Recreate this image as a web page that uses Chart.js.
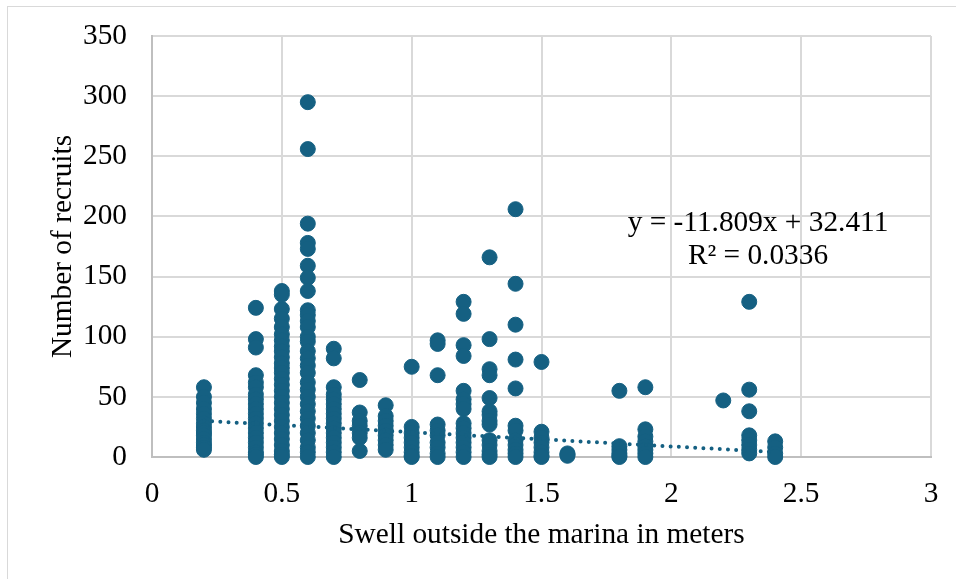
<!DOCTYPE html>
<html>
<head>
<meta charset="utf-8">
<script src="https://cdn.jsdelivr.net/npm/chart.js@4"></script>
<style>
  html, body { margin: 0; padding: 0; background: #fff; overflow: hidden; }
  #wrap { position: relative; width: 956px; height: 579px; }
  #frame { position: absolute; left: 7px; top: 6px; width: 960px; height: 590px; border: 1px solid #d9d9d9; box-sizing: border-box; }
  #myChart { position: absolute; left: 0; top: 0; }
  #eq { position: absolute; left: 608px; top: 205px; width: 300px; text-align: center;
        font: 29.33px/33px "Liberation Serif", serif; color: #000; }
</style>
</head>
<body>
<div id="wrap">
  <div id="frame"></div>
  <canvas id="myChart" width="956" height="579"></canvas>
  <div id="eq">y = -11.809x + 32.411<br>R² = 0.0336</div>
</div>
<script>
const swellLevels = [0.2, 0.4, 0.5, 0.6, 0.7, 0.8, 0.9, 1, 1.1, 1.2, 1.3, 1.4, 1.5, 1.6, 1.8, 1.9, 2.2, 2.3, 2.4]
const recruitsAtSwell = [
  [58, 50, 45, 40, 36, 32, 28, 25, 22, 20, 18, 15, 12, 10, 8, 6],
  [124, 98, 91, 68, 62, 58, 52, 48, 44, 40, 36, 32, 28, 24, 20, 16, 12, 8, 4, 2, 0],
  [138, 135, 123, 115, 108, 102, 97, 92, 88, 83, 78, 74, 70, 65, 60, 55, 50, 45, 40, 35, 30, 25, 20, 15, 10, 5, 2, 0],
  [295, 256, 194, 178, 173, 159, 149, 138, 122, 118, 113, 108, 100, 96, 88, 82, 76, 70, 62, 56, 50, 44, 38, 32, 26, 20, 14, 8, 4, 0],
  [90, 82, 58, 52, 48, 44, 40, 36, 32, 28, 24, 20, 16, 12, 8, 4, 0],
  [64, 37, 30, 26, 20, 16, 5],
  [43, 34, 30, 26, 22, 18, 14, 10, 6],
  [75, 25, 20, 16, 12, 8, 4, 1, 0],
  [97, 94, 68, 27, 22, 18, 12, 8, 3, 0],
  [129, 119, 93, 84, 55, 48, 44, 40, 28, 24, 20, 16, 12, 8, 4, 0],
  [166, 98, 73, 68, 49, 38, 35, 30, 27, 14, 10, 5, 2, 0],
  [206, 144, 110, 81, 57, 26, 22, 14, 10, 6, 3, 0],
  [79, 21, 16, 12, 8, 4, 1, 0],
  [3, 2, 1],
  [55, 9, 6, 3, 1, 0],
  [58, 23, 17, 13, 9, 6, 3, 0],
  [47],
  [129, 56, 38, 18, 14, 10, 6, 3],
  [13, 8, 3, 0]
]
const trendX = [0.2, 2.4]
const trendY = [30.05, 4.07]
const xTicks = [0, 0.5, 1, 1.5, 2, 2.5, 3]
const yTicks = [0, 50, 100, 150, 200, 250, 300, 350]

const markColor = '#156082'
const serif = '"Liberation Serif", serif'
const fontSize = 29.33

const points = swellLevels.flatMap((x, i) => recruitsAtSwell[i].map(y => ({ x, y })))
const trend = trendX.map((x, i) => ({ x, y: trendY[i] }))

new Chart(document.getElementById('myChart'), {
  type: 'scatter',
  data: {
    datasets: [{
      data: points,
      backgroundColor: markColor,
      borderColor: markColor,
      pointRadius: 7.5,
      clip: false,
      order: 2
    }, {
      type: 'line',
      data: trend,
      borderColor: markColor,
      borderWidth: 4,
      borderDash: [0, 8.2],
      borderCapStyle: 'round',
      pointRadius: 0,
      fill: false,
      tension: 0,
      clip: false,
      order: 1
    }]
  },
  options: {
    responsive: false,
    animation: false,
    layout: { padding: { top: 36, right: 25, left: 46, bottom: 26 } },
    plugins: { legend: { display: false }, tooltip: { enabled: false } },
    scales: {
      x: {
        type: 'linear',
        min: 0,
        max: 3,
        afterBuildTicks: axis => { axis.ticks = xTicks.map(value => ({ value })) },
        afterFit: axis => { axis.height = 96; axis.paddingRight = 0; axis.paddingLeft = 0 },
        grid: { color: '#d9d9d9', lineWidth: 2, drawTicks: false },
        border: { color: '#bfbfbf', width: 2 },
        ticks: { color: '#000', font: { family: serif, size: fontSize }, padding: 20, maxRotation: 0, autoSkip: false, callback: value => String(value) },
        title: { display: true, text: 'Swell outside the marina in meters', color: '#000', font: { family: serif, size: fontSize }, padding: { top: 0, bottom: 0 } }
      },
      y: {
        min: 0,
        max: 350,
        afterBuildTicks: axis => { axis.ticks = yTicks.map(value => ({ value })) },
        afterFit: axis => { axis.width = 106; axis.paddingTop = 0; axis.paddingBottom = 0 },
        grid: { color: '#d9d9d9', lineWidth: 2, drawTicks: false },
        border: { color: '#bfbfbf', width: 2 },
        ticks: { color: '#000', font: { family: serif, size: fontSize }, padding: 25, autoSkip: false },
        title: { display: true, text: 'Number of recruits', color: '#000', font: { family: serif, size: fontSize }, padding: { top: 0, bottom: 0 } }
      }
    }
  }
})
</script>
</body>
</html>
